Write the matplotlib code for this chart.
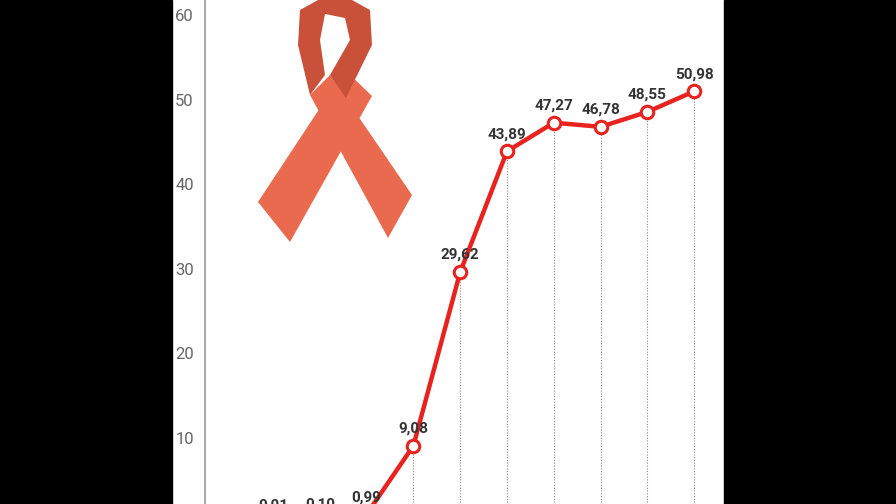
import matplotlib
matplotlib.use("Agg")
import matplotlib.pyplot as plt
from matplotlib.patches import Rectangle, Polygon

values = [0.01, 0.10, 0.99, 9.08, 29.62, 43.89, 47.27, 46.78, 48.55, 50.98]
labels = ["0,01", "0,10", "0,99", "9,08", "29,62", "43,89", "47,27", "46,78", "48,55", "50,98"]
yticks = [0, 10, 20, 30, 40, 50, 60]

W, H = 896, 504
fig = plt.figure(figsize=(W/100, H/100), dpi=100)
fig.patch.set_facecolor("white")

ax = fig.add_axes([205/W, 0, (724-205)/W, 1])
x0, dx = 273, 46.8
ppu = 8.46
zero = 522.6
ax.patch.set_alpha(0)
for s in ["top", "right", "bottom"]:
    ax.spines[s].set_visible(False)
ax.spines["left"].set_color("#999999")
ax.spines["left"].set_linewidth(1.2)
ax.set_xticks([])
ax.set_yticks(yticks)
ax.set_yticklabels([str(t) for t in yticks], color="#666666", fontsize=12, family="Roboto")
ax.tick_params(axis="y", length=0, pad=8)

xs = list(range(len(values)))
for x, v in zip(xs, values):
    ax.plot([x, x], [0, v], ls=(0, (1, 1.5)), color="#888888", lw=0.8, zorder=1)
ax.plot(xs, values, color="#e8231f", lw=3.2, zorder=2, clip_on=False)
ax.plot(xs, values, "o", ms=9, mfc="white", mec="#e8231f", mew=2.2, zorder=3, clip_on=False)
for x, v, l in zip(xs, values, labels):
    ax.text(x, v + 1.2, l, ha="center", va="bottom", fontsize=11, fontweight="bold",
            family="Roboto", color="#333333", clip_on=False)
ax.set_xlim((205-x0)/dx, (724-x0)/dx)
ax.set_ylim((zero-504)/ppu, zero/ppu)

def P(pts):
    return [(px/W, 1-py/H) for px, py in pts]
col = "#e96a4e"
dark = "#c9513a"
fig.patches.append(Polygon(P([(258, 202), (345, 70), (372, 96), (290, 242)]), closed=True,
                           transform=fig.transFigure, facecolor=col, edgecolor="none"))
fig.patches.append(Polygon(P([(300, 10), (318, 0), (352, 0), (370, 10), (372, 45), (345, 100),
                              (330, 75), (350, 40), (345, 18), (325, 14), (320, 40), (325, 75), (310, 95), (298, 45)]),
                           closed=True, transform=fig.transFigure, facecolor=dark, edgecolor="none"))
fig.patches.append(Polygon(P([(310, 95), (330, 75), (412, 195), (388, 238)]), closed=True,
                           transform=fig.transFigure, facecolor=col, edgecolor="none"))

fig.patches.append(Rectangle((0, 0), 172/W, 1, transform=fig.transFigure, color="black", zorder=10))
fig.patches.append(Rectangle((724/W, 0), (W-724)/W, 1, transform=fig.transFigure, color="black", zorder=10))

fig.savefig("out.png", dpi=100)
